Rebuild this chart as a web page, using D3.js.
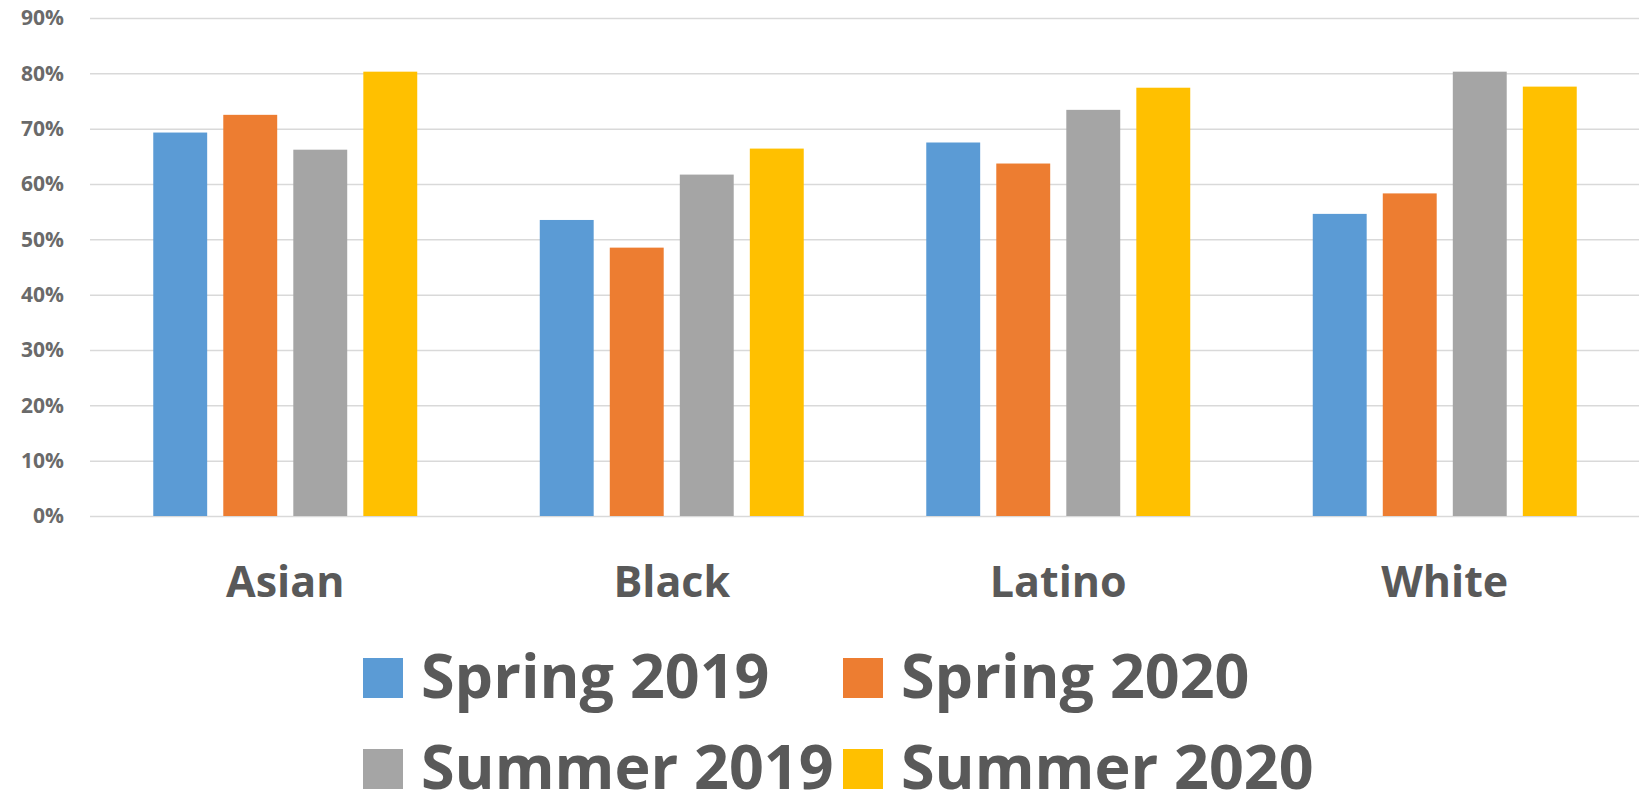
<!DOCTYPE html>
<html lang="en">
<head>
	<meta charset="utf-8">
	<title>Grouped bars by race</title>
	<script type="text/javascript" src="https://cdn.jsdelivr.net/npm/d3@7/dist/d3.min.js" charset="utf-8"></script>
	<style>
		body { margin: 0; background: #ffffff; }
		svg { display: block; }
	</style>
</head>
<body>
	<script type="text/javascript">

		// Data
		var categories = ["Asian", "Black", "Latino", "White"];
		var seriesNames = ["Spring 2019", "Spring 2020", "Summer 2019", "Summer 2020"];
		var spring2019 = [0.693, 0.535, 0.675, 0.546];
		var spring2020 = [0.725, 0.485, 0.637, 0.583];
		var summer2019 = [0.662, 0.617, 0.734, 0.803];
		var summer2020 = [0.803, 0.664, 0.774, 0.776];
		var yTicks = [0, 0.1, 0.2, 0.3, 0.4, 0.5, 0.6, 0.7, 0.8, 0.9];
		var colors = ["#5B9BD5", "#ED7D31", "#A5A5A5", "#FFC000"];

		var seriesValues = [spring2019, spring2020, summer2019, summer2020];

		// Width and height
		var svg_width = 1639;
		var svg_height = 810;
		var plot = {left: 92, right: 1638, top: 18, bottom: 516};

		var svg = d3.select("body")
					.append("svg")
					.attr("width", svg_width)
					.attr("height", svg_height);

		// Scales
		var yScale = d3.scaleLinear()
						.domain([0, 0.9])
						.range([plot.bottom, plot.top]);

		var x0 = d3.scaleBand()
					.domain(categories)
					.range([plot.left, plot.right])
					.paddingInner(0.317)
					.paddingOuter(0.1585);

		var x1 = d3.scaleBand()
					.domain(seriesNames)
					.range([0, x0.bandwidth()])
					.paddingInner(0.23)
					.paddingOuter(0);

		// Gridlines + y labels via the axis
		var yAxis = d3.axisLeft(yScale)
					  .tickValues(yTicks)
					  .tickFormat(d3.format(".0%"))
					  .tickSize(-(svg_width - 90))
					  .tickPadding(26);

		var gy = svg.append("g")
					.attr("transform", "translate(90,0)")
					.call(yAxis);

		gy.select(".domain").remove();
		gy.selectAll(".tick line")
			.attr("stroke", "#d9d9d9")
			.attr("stroke-width", 1.5);
		gy.selectAll(".tick text")
			.attr("fill", "#6a6a6a")
			.style("font-family", "'Open Sans', sans-serif")
			.style("font-weight", "700")
			.style("font-size", "21px");

		// Build a flat table for the bars
		var table = [];
		categories.forEach(function(c, i) {
			seriesNames.forEach(function(s, j) {
				table.push({cat: c, series: s, value: seriesValues[j][i], color: colors[j]});
			});
		});

		// Add rectangles
		svg.append("g")
			.selectAll("rect")
			.data(table)
			.enter()
				.append("rect")
				.attr("x", function(d) { return x0(d.cat) + x1(d.series); })
				.attr("y", function(d) { return yScale(d.value); })
				.attr("width", x1.bandwidth())
				.attr("height", function(d) { return yScale(0) - yScale(d.value); })
				.attr("fill", function(d) { return d.color; });

		// Category labels
		var xAxis = d3.axisBottom(x0)
					  .tickSize(0)
					  .tickPadding(50);

		var gx = svg.append("g")
					.attr("transform", "translate(0," + plot.bottom + ")")
					.call(xAxis);

		gx.select(".domain").remove();
		gx.selectAll(".tick text")
			.attr("fill", "#595959")
			.style("font-family", "'Open Sans', sans-serif")
			.style("font-weight", "700")
			.style("font-size", "43px");

		// Legend, two rows of two
		var legendRows = [698, 789];
		var legend = svg.append("g");
		var fontLegend = "700 61px 'Open Sans', sans-serif";

		seriesNames.forEach(function(name, j) {
			var row = Math.floor(j / 2);
			var col = j % 2;
			var baseline = legendRows[row];
			var x;
			if (col === 0) {
				x = 363;
			} else {
				// second column sits after the first entry of the row
				var prev = legend.select(".label-" + (j - 1)).node();
				var end = prev.getBBox().x + prev.getBBox().width;
				x = Math.max(843, end + 8);
			}

			legend.append("rect")
				.attr("x", x)
				.attr("y", baseline - 40)
				.attr("width", 40)
				.attr("height", 40)
				.attr("fill", colors[j]);

			legend.append("text")
				.attr("class", "label-" + j)
				.attr("x", x + 58)
				.attr("y", baseline)
				.attr("fill", "#595959")
				.style("font", fontLegend)
				.text(name);
		});

	</script>
</body>
</html>
